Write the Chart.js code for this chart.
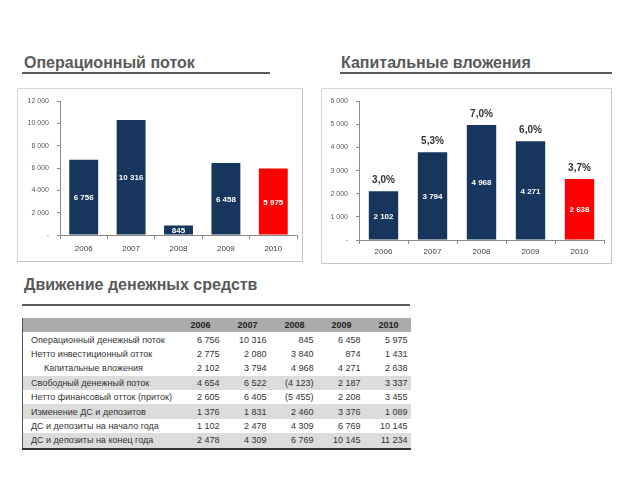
<!DOCTYPE html>
<html lang="ru">
<head>
    <meta charset="UTF-8">
    <title>Операционный поток и капитальные вложения</title>
    <script src="https://cdn.jsdelivr.net/npm/chart.js"></script>
    <style>
        body {
            margin: 0;
            width: 640px;
            height: 480px;
            background: #ffffff;
            font-family: 'Liberation Sans', Arial, sans-serif;
            position: relative;
            overflow: hidden;
        }
        .title {
            position: absolute;
            font-size: 16px;
            font-weight: bold;
            color: #595959;
            white-space: nowrap;
        }
        .rule {
            position: absolute;
            height: 2px;
            background: #5a5a5a;
        }
        .box {
            position: absolute;
            border: 1px solid #d4d4d4;
            border-right-color: #c4c4c4;
            border-bottom-color: #c4c4c4;
            box-sizing: border-box;
        }
        .box canvas { position: absolute; left: 0; top: 0; }
        table {
            position: absolute;
            left: 22px;
            top: 318px;
            width: 388px;
            border-collapse: collapse;
            table-layout: fixed;
            font-size: 9px;
            color: #333;
            border-left: 1px solid #555;
            border-bottom: 2px solid #333;
        }
        td, th {
            height: 14.4px;
            padding: 0;
            white-space: nowrap;
        }
        th { background: #ababab; font-weight: bold; text-align: right; padding-right: 12px; color: #222; }
        td.lab { padding-left: 8px; text-align: left; }
        td.lab.sub { padding-left: 21px; }
        td.num { text-align: right; padding-right: 3px; }
        tr.shade td { background: #dcdcdc; }
    </style>
</head>
<body>
    <div class="title" style="left:24px; top:54px;">Операционный поток</div>
    <div class="rule" style="left:22px; top:72px; width:248px;"></div>
    <div class="title" style="left:341px; top:54px;">Капитальные вложения</div>
    <div class="rule" style="left:340px; top:72px; width:272px;"></div>

    <div class="box" style="left:17px; top:88px; width:286px; height:174px;">
        <canvas id="opChart" width="286" height="174"></canvas>
    </div>
    <div class="box" style="left:321px; top:88px; width:291px; height:176px;">
        <canvas id="capChart" width="291" height="176"></canvas>
    </div>

    <div class="title" style="left:24px; top:276px;">Движение денежных средств</div>
    <div class="rule" style="left:22px; top:304px; width:388px;"></div>

    <table id="cashTable"></table>

    <script>
        const years = ['2006', '2007', '2008', '2009', '2010'];
        const opFlow = [6756, 10316, 845, 6458, 5975];
        const capex = [2102, 3794, 4968, 4271, 2638];
        const capexShare = ['3,0%', '5,3%', '7,0%', '6,0%', '3,7%'];

        const rowNames = [
            'Операционный денежный поток',
            'Нетто инвестиционный отток',
            'Капитальные вложения',
            'Свободный денежный поток',
            'Нетто финансовый отток (приток)',
            'Изменение ДС и депозитов',
            'ДС и депозиты на начало года',
            'ДС и депозиты на конец года'
        ];
        const rowValues = [
            [6756, 10316, 845, 6458, 5975],
            [2775, 2080, 3840, 874, 1431],
            [2102, 3794, 4968, 4271, 2638],
            [4654, 6522, -4123, 2187, 3337],
            [2605, 6405, -5455, 2208, 3455],
            [1376, 1831, 2460, 3376, 1089],
            [1102, 2478, 4309, 6769, 10145],
            [2478, 4309, 6769, 10145, 11234]
        ];
        const subRows = [2];
        const shadedRows = [3, 5, 7];

        const navy = '#17365d';
        const red = '#ff0000';

        function fmt(v) {
            if (v === 0) return '-';
            const s = String(Math.abs(v)).replace(/\B(?=(\d{3})+(?!\d))/g, ' ');
            return v < 0 ? '(' + s + ')' : s;
        }

        // таблица
        let html = '<colgroup><col style="width:153px">' + years.map(() => '<col style="width:47px">').join('') + '</colgroup>';
        html += '<tr><th></th>' + years.map(y => `<th>${y}</th>`).join('') + '</tr>';
        rowNames.forEach((name, i) => {
            const cls = shadedRows.includes(i) ? ' class="shade"' : '';
            const labCls = subRows.includes(i) ? 'lab sub' : 'lab';
            html += `<tr${cls}><td class="${labCls}">${name}</td>` +
                rowValues[i].map(v => `<td class="num">${fmt(v)}</td>`).join('') + '</tr>';
        });
        document.getElementById('cashTable').innerHTML = html;

        const barLabels = {
            id: 'barLabels',
            afterDatasetsDraw(chart, args, opts) {
                const ctx = chart.ctx;
                const meta = chart.getDatasetMeta(0);
                const data = chart.data.datasets[0].data;
                ctx.save();
                ctx.textAlign = 'center';
                ctx.textBaseline = 'middle';
                meta.data.forEach((bar, i) => {
                    ctx.fillStyle = '#ffffff';
                    ctx.font = 'bold 8px "Liberation Sans", Arial, sans-serif';
                    ctx.fillText(fmt(data[i]), bar.x, (bar.y + bar.base) / 2 + 1);
                    if (opts.top) {
                        ctx.fillStyle = '#333333';
                        ctx.font = 'bold 10px "Liberation Sans", Arial, sans-serif';
                        ctx.fillText(opts.top[i], bar.x, bar.y - 11);
                    }
                });
                ctx.restore();
            }
        };

        function makeChart(id, values, max, step, yWidth, xHeight, padTop, padRight, barPct, xPad, top) {
            new Chart(document.getElementById(id), {
                type: 'bar',
                data: {
                    labels: years,
                    datasets: [{
                        data: values,
                        backgroundColor: years.map((y, i) => i === years.length - 1 ? red : navy),
                        barPercentage: barPct,
                        categoryPercentage: 1
                    }]
                },
                options: {
                    responsive: false,
                    animation: false,
                    devicePixelRatio: 1,
                    layout: { padding: { top: padTop, right: padRight, left: 0, bottom: 0 } },
                    plugins: {
                        legend: { display: false },
                        tooltip: { enabled: false },
                        barLabels: { top: top }
                    },
                    scales: {
                        x: {
                            grid: { drawOnChartArea: false, drawTicks: true, tickLength: 4, color: '#8c8c8c' },
                            border: { color: '#8c8c8c' },
                            ticks: { color: '#404040', font: { size: 8, family: 'Liberation Sans' }, padding: xPad },
                            afterFit(scale) { scale.height = xHeight; }
                        },
                        y: {
                            min: 0,
                            max: max,
                            grid: { drawOnChartArea: false, drawTicks: true, tickLength: 3, color: '#8c8c8c' },
                            border: { color: '#8c8c8c' },
                            ticks: {
                                stepSize: step,
                                color: '#595959',
                                padding: 8,
                                font: { size: 7, family: 'Liberation Sans' },
                                callback: v => fmt(v)
                            },
                            afterFit(scale) { scale.width = yWidth; }
                        }
                    }
                },
                plugins: [barLabels]
            });
        }

        makeChart('opChart', opFlow, 12000, 2000, 42, 28, 10, 7, 0.61, 5, null);
        makeChart('capChart', capex, 6000, 1000, 37, 25, 9, 9, 0.6, 3, capexShare);
    </script>
</body>
</html>
